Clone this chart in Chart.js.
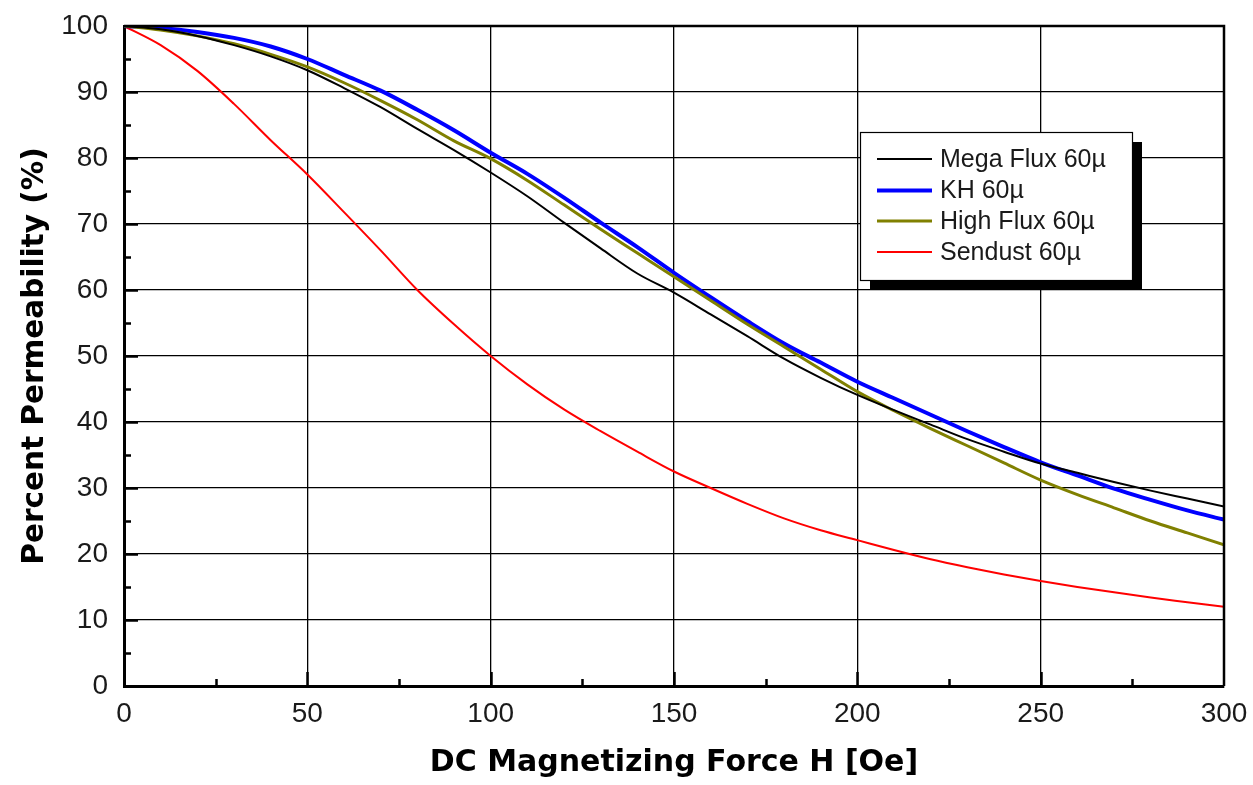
<!DOCTYPE html>
<html>
<head>
<meta charset="utf-8">
<script src="https://cdn.jsdelivr.net/npm/chart.js@4.4.1/dist/chart.umd.min.js"></script>
<style>
  body { margin: 0; background: #fff; }
  canvas { display: block; }
</style>
</head>
<body>
<canvas id="chart" width="1253" height="785"></canvas>
<script>
// DC magnetizing force H [Oe]
const hValues = [0, 10, 20, 30, 40, 50, 60, 70, 80, 90, 100, 110, 120, 130, 140, 150,
  160, 170, 180, 190, 200, 210, 220, 230, 240, 250, 260, 270, 280, 290, 300];

// percent permeability
const megaFlux = [100, 99.5, 98.5, 97.1, 95.4, 93.3, 90.6, 87.7, 84.4, 81.2, 77.8, 74.2, 70.2, 66.3, 62.5, 59.6,
  56.3, 53.0, 49.6, 46.7, 44.1, 41.8, 39.6, 37.4, 35.5, 33.7, 32.3, 30.9, 29.6, 28.4, 27.2];
const kh = [100, 99.7, 99.1, 98.2, 96.9, 95.0, 92.6, 90.2, 87.3, 84.2, 80.8, 77.6, 74.0, 70.2, 66.5, 62.6,
  58.9, 55.3, 51.9, 49.0, 46.1, 43.6, 41.1, 38.6, 36.2, 33.9, 31.9, 29.9, 28.2, 26.6, 25.2];
const highFlux = [100, 99.4, 98.5, 97.3, 95.7, 93.8, 91.4, 88.7, 85.8, 82.6, 79.9, 76.6, 72.9, 69.2, 65.6, 62.0,
  58.4, 54.8, 51.4, 48.0, 44.6, 41.7, 39.0, 36.4, 33.8, 31.2, 29.0, 27.0, 25.0, 23.2, 21.4];
const sendust = [100, 97.1, 93.2, 88.2, 82.7, 77.5, 71.8, 66.0, 60.0, 54.8, 50.0, 45.7, 41.9, 38.6, 35.5, 32.5,
  30.0, 27.6, 25.4, 23.6, 22.1, 20.6, 19.2, 18.0, 16.9, 15.9, 15.0, 14.2, 13.4, 12.7, 12.0];

const seriesNames = ["Mega Flux 60\u00b5", "KH 60\u00b5", "High Flux 60\u00b5", "Sendust 60\u00b5"];

const FONT = "'Liberation Sans', Arial, sans-serif";
const TITLE_FONT = "'DejaVu Sans', 'Liberation Sans', Arial, sans-serif";

function points(vals) {
  return hValues.map((h, i) => ({ x: h, y: vals[i] }));
}

function series(label, vals, color, width, order) {
  return {
    label: label,
    data: points(vals),
    borderColor: color,
    backgroundColor: color,
    borderWidth: width,
    pointRadius: 0,
    cubicInterpolationMode: "monotone",
    order: order
  };
}

// inward major/minor ticks, frame and the boxed legend with its shadow
const framePlugin = {
  id: "frame",
  afterDatasetsDraw(chart) {
    const ctx = chart.ctx;
    const a = chart.chartArea;
    const xs = chart.scales.x;
    const ys = chart.scales.y;
    ctx.save();
    ctx.strokeStyle = "#000";
    ctx.lineWidth = 2.5;
    ctx.beginPath();
    for (let v = 5; v < 100; v += 5) {
      const y = Math.round(ys.getPixelForValue(v)) + 0.5;
      const len = v % 10 === 0 ? 14 : 7;
      ctx.moveTo(a.left, y);
      ctx.lineTo(a.left + len, y);
    }
    for (let v = 25; v < 300; v += 25) {
      const x = Math.round(xs.getPixelForValue(v)) + 0.5;
      const len = v % 50 === 0 ? 14 : 7;
      ctx.moveTo(x, a.bottom);
      ctx.lineTo(x, a.bottom - len);
    }
    ctx.stroke();
    ctx.lineWidth = 2.5;
    ctx.beginPath();
    ctx.moveTo(a.left, a.top);
    ctx.lineTo(a.right, a.top);
    ctx.lineTo(a.right, a.bottom);
    ctx.stroke();

    // legend box
    const bx = 860, by = 132, bw = 272, bh = 148;
    ctx.fillStyle = "#000";
    ctx.fillRect(bx + 10, by + 10, bw, bh);
    ctx.fillStyle = "#fff";
    ctx.fillRect(bx, by, bw, bh);
    ctx.lineWidth = 1.2;
    ctx.strokeRect(bx + 0.5, by + 0.5, bw, bh);
    const rows = [159, 190.5, 221, 252];
    ctx.font = "25px " + FONT;
    ctx.textBaseline = "middle";
    ctx.textAlign = "left";
    chart.data.datasets.forEach((ds, i) => {
      ctx.strokeStyle = ds.borderColor;
      ctx.lineWidth = ds.borderWidth;
      ctx.beginPath();
      ctx.moveTo(877, rows[i]);
      ctx.lineTo(932, rows[i]);
      ctx.stroke();
      ctx.fillStyle = "#1a1a1a";
      ctx.fillText(ds.label, 940, rows[i] + 1);
    });
    ctx.restore();
  }
};

const chart = new Chart(document.getElementById("chart"), {
  type: "line",
  data: {
    datasets: [
      series(seriesNames[0], megaFlux, "#000000", 2, 0),
      series(seriesNames[1], kh, "#0000ff", 4, 2),
      series(seriesNames[2], highFlux, "#808000", 3, 1),
      series(seriesNames[3], sendust, "#ff0000", 2, 3)
    ]
  },
  options: {
    responsive: false,
    animation: false,
    layout: { padding: { left: 0, top: 26, right: 29, bottom: 0 } },
    plugins: {
      legend: { display: false },
      tooltip: { enabled: false }
    },
    scales: {
      x: {
        type: "linear",
        min: 0,
        max: 300,
        afterFit(scale) {
          scale.height = 99;
          scale.paddingLeft = 0;
          scale.paddingRight = 0;
        },
        ticks: {
          stepSize: 50,
          padding: 11,
          color: "#1a1a1a",
          font: { family: FONT, size: 28 }
        },
        grid: { color: "#000", lineWidth: 1.3, drawTicks: false },
        border: { display: true, color: "#000", width: 3 },
        title: {
          display: true,
          text: "DC Magnetizing Force H [Oe]",
          color: "#000",
          font: { family: TITLE_FONT, size: 30, weight: "bold" },
          padding: { top: 0, bottom: 4 }
        }
      },
      y: {
        min: 0,
        max: 100,
        afterFit(scale) {
          scale.width = 124;
          scale.paddingTop = 0;
          scale.paddingBottom = 0;
        },
        ticks: {
          stepSize: 10,
          padding: 16,
          color: "#1a1a1a",
          font: { family: FONT, size: 28 }
        },
        grid: { color: "#000", lineWidth: 1.3, drawTicks: false },
        border: { display: true, color: "#000", width: 3 },
        title: {
          display: true,
          text: "Percent Permeability (%)",
          color: "#000",
          font: { family: TITLE_FONT, size: 29.5, weight: "bold" },
          padding: { top: 18, bottom: 0 }
        }
      }
    }
  },
  plugins: [framePlugin]
});
</script>
</body>
</html>
